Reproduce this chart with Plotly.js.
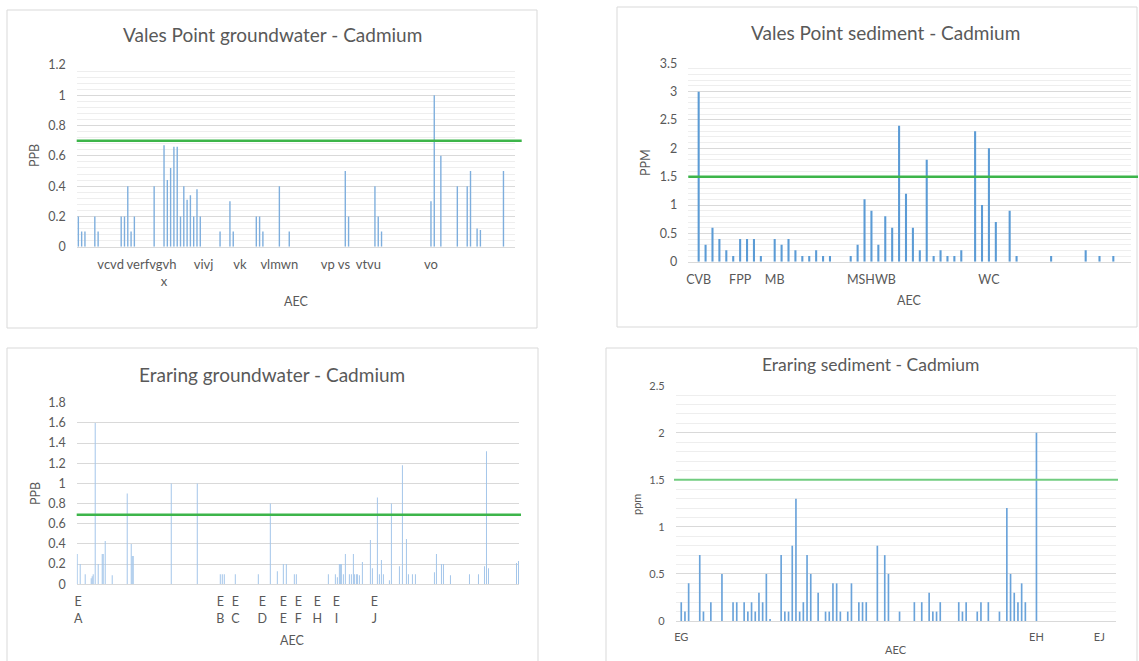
<!DOCTYPE html>
<html><head><meta charset="utf-8">
<script src="https://cdn.plot.ly/plotly-3.0.1.min.js"></script>
<style>html,body{margin:0;padding:0;background:#fff;overflow:hidden;} #chart{width:1139px;height:661px;}</style>
</head><body><div id="chart"></div>
<script>
// ---------- Vales Point groundwater (PPB) ----------
const vpGwCount = 133;
const vpGwIdx = [0,1,2,5,6,13,14,15,16,17,23,26,27,28,29,30,31,32,33,34,35,36,37,43,46,47,54,55,56,61,64,81,82,90,91,92,107,108,110,115,118,119,121,122,129];
const vpGwVal = [0.2,0.1,0.1,0.2,0.1,0.2,0.2,0.4,0.1,0.2,0.4,0.67,0.44,0.52,0.66,0.66,0.2,0.4,0.31,0.34,0.2,0.38,0.2,0.1,0.3,0.1,0.2,0.2,0.1,0.4,0.1,0.5,0.2,0.4,0.2,0.1,0.3,1.0,0.6,0.4,0.4,0.5,0.12,0.11,0.5];
const vpGwTickPos = [9.8,22.2,26,38,49,61,78,88,107];
const vpGwTickText = ["vcvd","verfvgvh"," <br>x","vivj","vk","vlmwn","vp vs","vtvu","vo"];
const vpGwLimit = 0.7;

// ---------- Vales Point sediment (PPM) ----------
const vpSedCount = 64;
const vpSedIdx = [1,2,3,4,5,6,7,8,9,10,12,13,14,15,16,17,18,19,20,23,24,25,26,27,28,29,30,31,32,33,34,35,36,37,38,39,41,42,43,44,46,47,52,57,59,61];
const vpSedVal = [3.0,0.3,0.6,0.4,0.2,0.1,0.4,0.4,0.4,0.1,0.4,0.3,0.4,0.2,0.1,0.1,0.2,0.1,0.1,0.1,0.3,1.1,0.9,0.3,0.8,0.6,2.4,1.2,0.6,0.2,1.8,0.1,0.2,0.1,0.1,0.2,2.3,1.0,2.0,0.7,0.9,0.1,0.1,0.2,0.1,0.1];
const vpSedTickPos = [1,7,12,26,43];
const vpSedTickText = ["CVB","FPP","MB","MSHWB","WC"];
const vpSedLimit = 1.5;

// ---------- Eraring groundwater (PPB) ----------
const erGwCount = 442;
const erGwIdx = [0,3,8,14,15,16,18,21,25,26,28,35,50,54,55,56,94,120,143,145,147,158,181,193,200,206,209,217,219,251,258,260,262,263,264,266,268,272,274,276,277,279,280,282,285,293,295,300,302,304,306,312,314,322,325,329,331,335,338,357,359,364,366,373,392,401,407,409,411,439,441];
const erGwVal = [0.3,0.2,0.1,0.06,0.08,0.1,1.6,0.2,0.3,0.3,0.43,0.09,0.9,0.4,0.28,0.28,1.0,1.0,0.1,0.1,0.1,0.1,0.1,0.8,0.13,0.2,0.2,0.1,0.1,0.1,0.1,0.07,0.2,0.2,0.2,0.1,0.3,0.1,0.1,0.3,0.1,0.1,0.1,0.09,0.22,0.44,0.16,0.86,0.1,0.24,0.1,0.04,0.8,0.18,1.18,0.45,0.1,0.1,0.1,0.12,0.3,0.2,0.2,0.09,0.1,0.1,0.18,1.32,0.16,0.21,0.23];
const erGwTickPos = [1,143,158,185,206,221,240,259,297];
const erGwTickText = ["E<br>A","E<br>B","E<br>C","E<br>D","E<br>E","E<br>F","E<br>H","E<br>I","E<br>J"];
const erGwLimit = 0.69;

// ---------- Eraring sediment (ppm) ----------
const erSedCount = 119;
const erSedIdx = [1,2,3,6,7,9,12,15,16,18,19,20,21,22,23,24,25,28,29,30,31,32,33,34,35,36,38,40,41,42,43,44,46,47,49,50,51,54,56,57,60,64,66,68,69,70,71,76,77,78,81,82,84,87,89,90,91,92,93,94,97];
const erSedVal = [0.2,0.1,0.4,0.7,0.1,0.2,0.5,0.2,0.2,0.2,0.1,0.2,0.1,0.3,0.2,0.5,0.02,0.7,0.1,0.1,0.8,1.3,0.1,0.2,0.7,0.5,0.3,0.1,0.1,0.4,0.4,0.1,0.1,0.4,0.2,0.2,0.2,0.8,0.7,0.5,0.1,0.2,0.2,0.3,0.1,0.1,0.2,0.2,0.1,0.2,0.1,0.2,0.2,0.1,1.2,0.5,0.3,0.2,0.4,0.2,2.0];
const erSedTickPos = [1,97,114];
const erSedTickText = ["EG","EH","EJ"];
const erSedLimit = 1.5;

// ---------- layout helpers ----------
const W = 1139, H = 661;
const px = p => p / W;
const py = p => 1 - p / H;
const FONT = "Lato, 'Open Sans', sans-serif";
const GREY = "#595959";
const GREEN = "#3DB54A";

function xAxis(l, r, n, vals, text, anchor, size) {
  return {domain:[px(l), px(r)], range:[-0.5, n - 0.5], anchor:anchor,
    tickmode:'array', tickvals:vals, ticktext:text, ticks:'', ticklabelstandoff:6, tickangle:0,
    showgrid:false, zeroline:false, showline:true, linecolor:'#D9D9D9', linewidth:1,
    tickfont:{family:FONT, size:size, color:GREY}, fixedrange:true};
}
function yAxis(bottom, top, max, dtick, minor, anchor, size) {
  const a = {domain:[py(bottom), py(top)], range:[0, max], anchor:anchor, tick0:0, dtick:dtick,
    ticks:'', ticklabelstandoff:10, showgrid:true, gridcolor:'#D9D9D9', gridwidth:1,
    zeroline:false, showline:false, tickfont:{family:FONT, size:size, color:GREY}, fixedrange:true};
  if (minor) a.minor = {dtick:minor, tick0:0, showgrid:true, gridcolor:'#EEEEEE', gridwidth:1};
  return a;
}

const traces = [
  {type:'bar', x:vpGwIdx, y:vpGwVal, width:0.42, xaxis:'x', yaxis:'y',
   marker:{color:'#7EAEDD', line:{width:0}}, hoverinfo:'skip'},
  {type:'bar', x:vpSedIdx, y:vpSedVal, width:0.3, xaxis:'x2', yaxis:'y2',
   marker:{color:'#5B9BD5', line:{width:0}}, hoverinfo:'skip'},
  {type:'bar', x:erGwIdx, y:erGwVal, width:1.0, xaxis:'x3', yaxis:'y3',
   marker:{color:'#A4C6EA', line:{width:0}}, hoverinfo:'skip'},
  {type:'bar', x:erSedIdx, y:erSedVal, width:0.45, xaxis:'x4', yaxis:'y4',
   marker:{color:'#6AA3DA', line:{width:0}}, hoverinfo:'skip'}
];

function box(l, t, r, b) {
  return {type:'rect', xref:'paper', yref:'paper', x0:px(l), x1:px(r), y0:py(b), y1:py(t),
    line:{color:'#D9D9D9', width:1}, fillcolor:'rgba(0,0,0,0)', layer:'below'};
}
function limitLine(l, r, yref, v, color, w) {
  return {type:'line', xref:'paper', yref:yref, x0:px(l), x1:px(r), y0:v, y1:v,
    line:{color:color, width:w}, layer:'above'};
}
function ann(text, x, y, size, angle) {
  return {text:text, x:px(x), y:py(y), xref:'paper', yref:'paper', showarrow:false,
    xanchor:'center', yanchor:'middle', textangle:angle || 0,
    font:{family:FONT, size:size, color:GREY}};
}

const layout = {
  width:W, height:H, margin:{l:0, r:0, t:0, b:0}, showlegend:false,
  paper_bgcolor:'#ffffff', plot_bgcolor:'rgba(0,0,0,0)', bargap:0.2,
  xaxis: xAxis(76.7, 515, vpGwCount, vpGwTickPos, vpGwTickText, 'y', 13),
  yaxis: yAxis(246.7, 65, 1.2, 0.2, 0.04, 'x', 12.5),
  xaxis2: xAxis(688.3, 1130.6, vpSedCount, vpSedTickPos, vpSedTickText, 'y2', 12.5),
  yaxis2: yAxis(261.7, 63.3, 3.5, 0.5, 0.1, 'x2', 12.5),
  xaxis3: xAxis(76.7, 519, erGwCount, erGwTickPos, erGwTickText, 'y3', 12.5),
  yaxis3: yAxis(584.3, 402.7, 1.8, 0.2, null, 'x3', 12.5),
  xaxis4: xAxis(675.7, 1116, erSedCount, erSedTickPos, erSedTickText, 'y4', 11),
  yaxis4: yAxis(621, 385.7, 2.5, 0.5, 0.1, 'x4', 11),
  shapes: [
    box(7, 10, 537, 328), box(617, 7, 1137, 327), box(7, 348, 538, 675), box(606, 348, 1137, 675),
    limitLine(76.7, 521.7, 'y', vpGwLimit, GREEN, 2.5),
    limitLine(688.3, 1138, 'y2', vpSedLimit, GREEN, 2.5),
    limitLine(76.7, 521, 'y3', erGwLimit, GREEN, 2.5),
    limitLine(674, 1118, 'y4', erSedLimit, '#72CC80', 2)
  ],
  annotations: [
    ann('Vales Point groundwater - Cadmium', 272, 35, 19),
    ann('Vales Point sediment - Cadmium', 885, 32, 19),
    ann('Eraring groundwater - Cadmium', 272, 374, 19),
    ann('Eraring sediment - Cadmium', 871, 365, 17.5),
    ann('PPB', 35, 156, 12.5, -90), ann('AEC', 296, 301, 12.5),
    ann('PPM', 646, 163, 12.5, -90), ann('AEC', 909, 300, 12.5),
    ann('PPB', 35, 494, 12.5, -90), ann('AEC', 292, 640, 12.5),
    ann('ppm', 636, 505, 11, -90), ann('AEC', 896, 649, 11)
  ]
};

Plotly.newPlot('chart', traces, layout, {staticPlot:true, displayModeBar:false});
</script>
</body></html>
